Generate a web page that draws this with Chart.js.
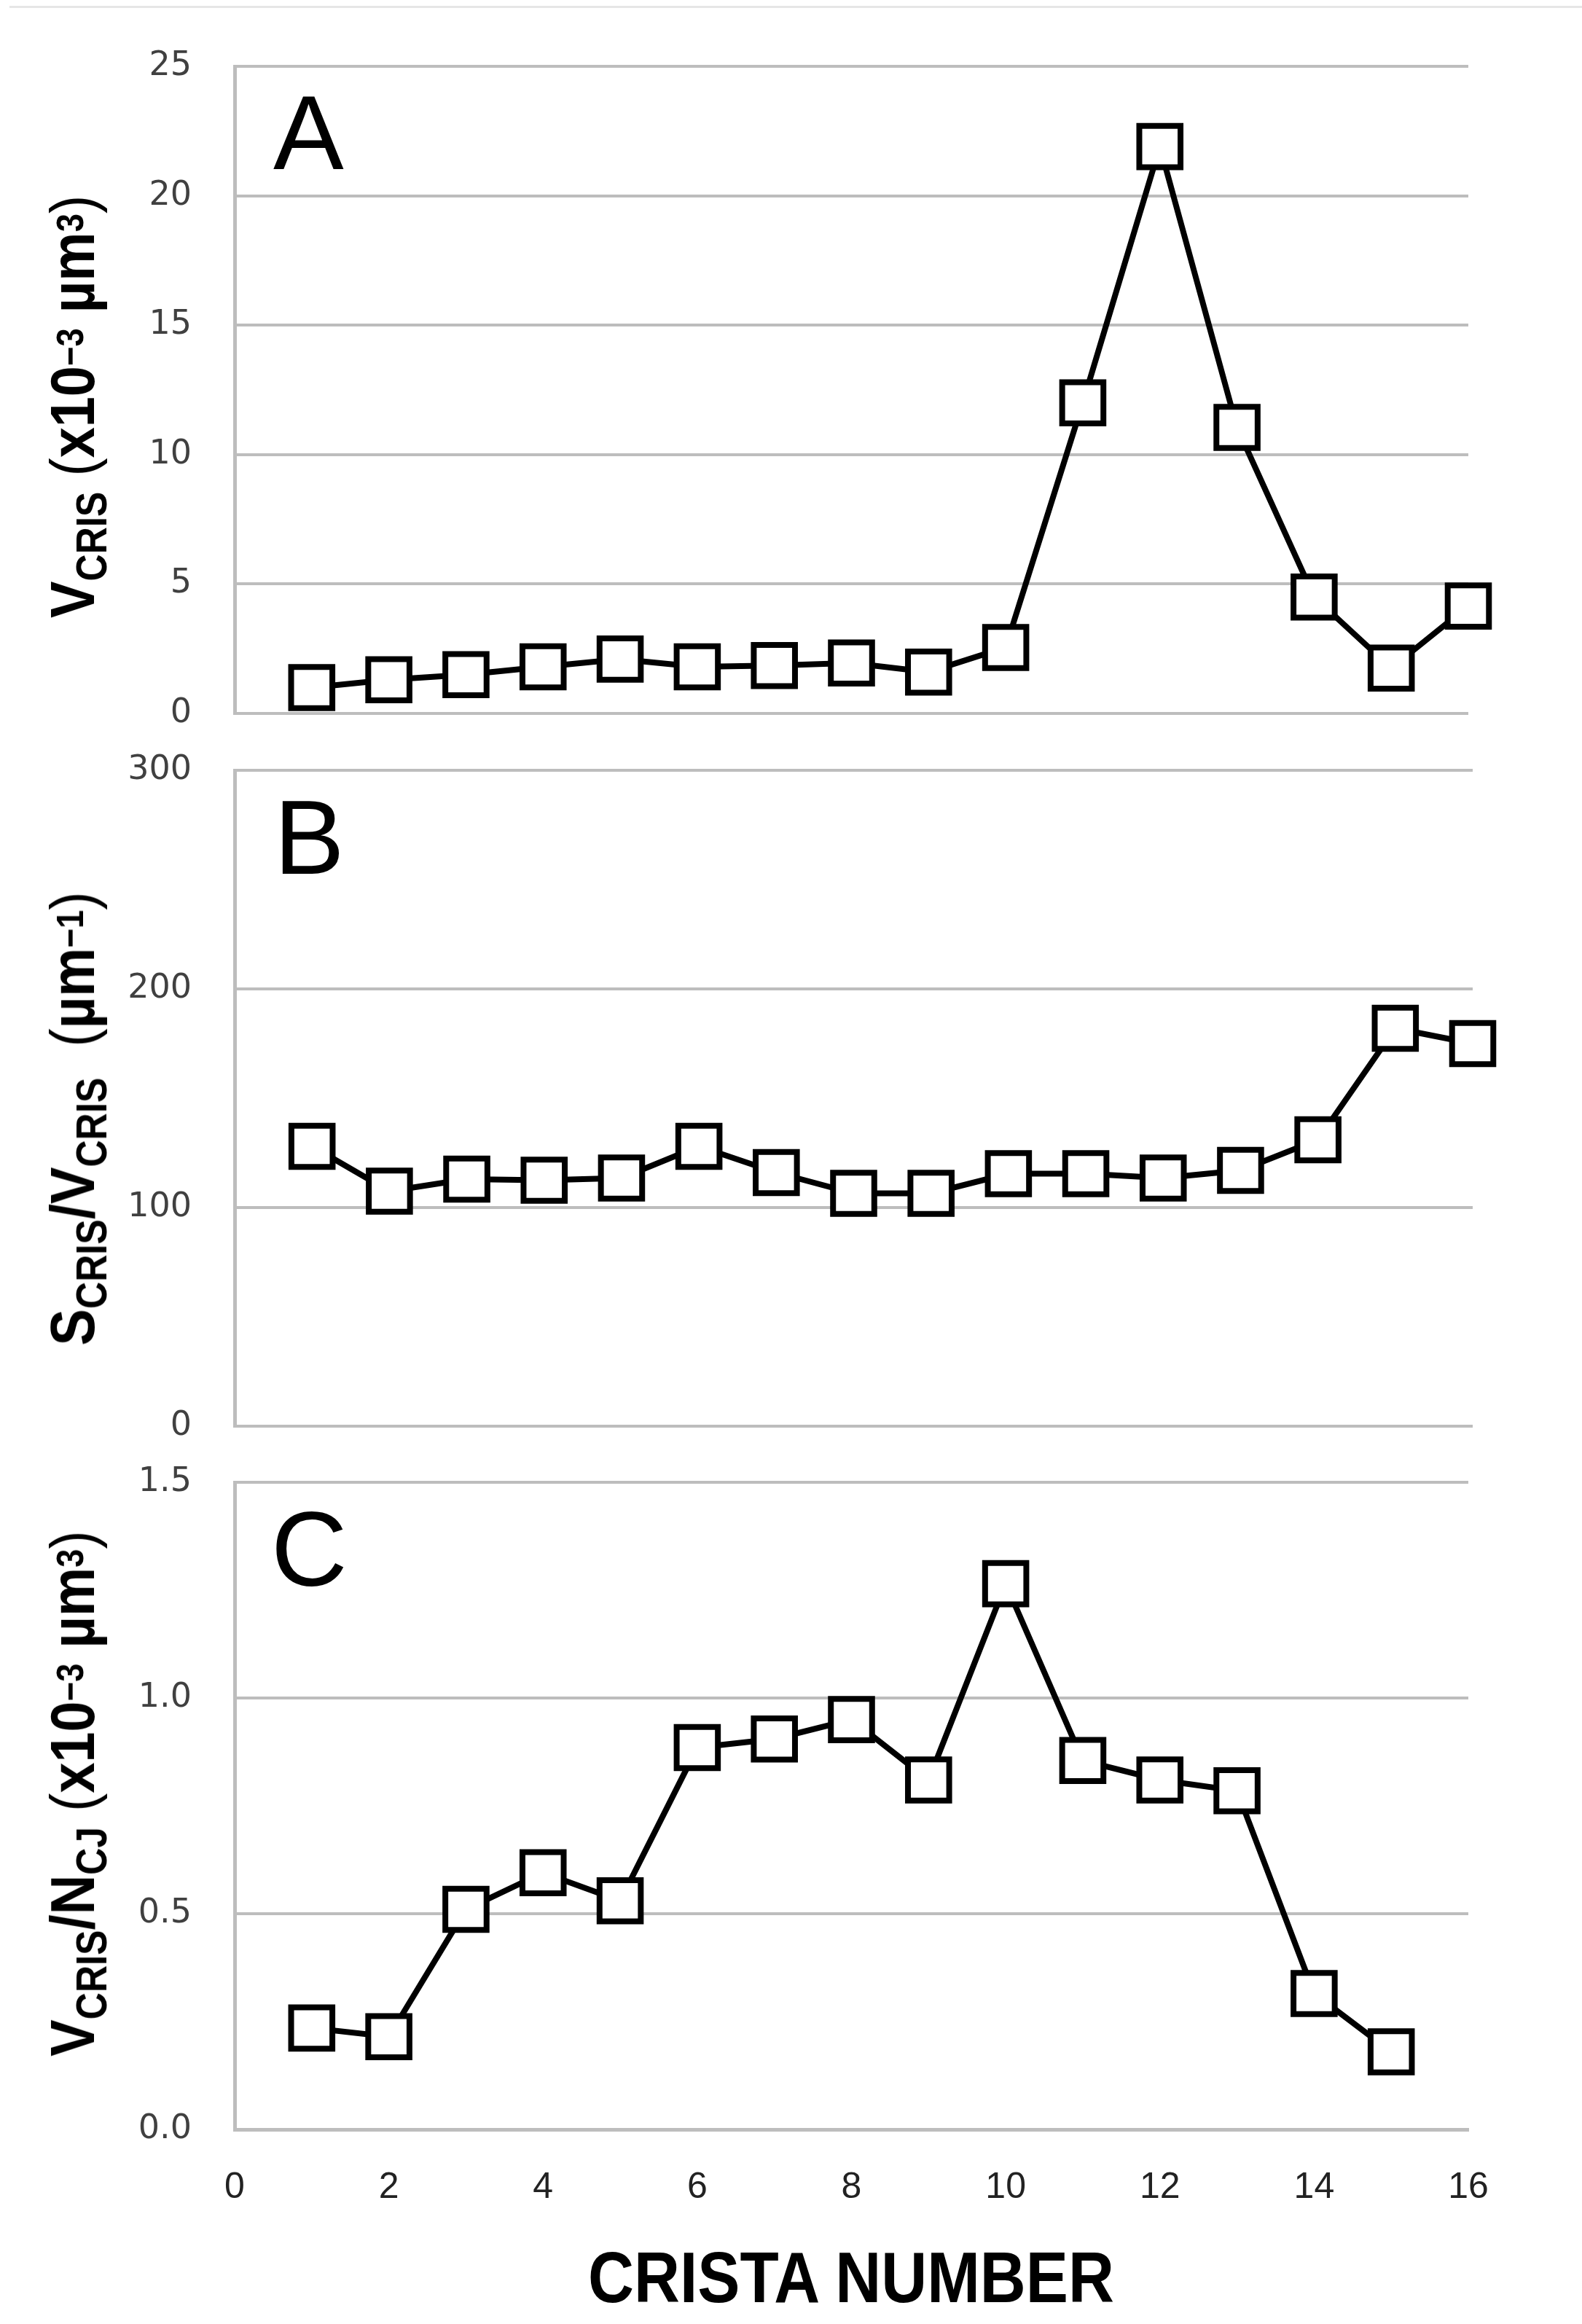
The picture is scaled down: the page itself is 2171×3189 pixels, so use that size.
<!DOCTYPE html>
<html>
<head>
<meta charset="utf-8">
<title>Crista number</title>
<script src="https://cdn.jsdelivr.net/npm/chart.js@4.4.0/dist/chart.umd.min.js"></script>
<style>
  html, body { margin: 0; padding: 0; background: #fff; }
  #page { position: relative; width: 2171px; height: 3189px; overflow: hidden; background: #fff; }
  #page canvas { position: absolute; left: 0; }
  .topline { position: absolute; left: 13px; top: 8px; width: 2158px; height: 3px; background: #e6e6e6; }
  .letter { position: absolute; font: 145px "Liberation Sans", Arial, sans-serif; line-height: 1; color: #000; }
  .ytitle {
    position: absolute; white-space: nowrap; color: #000;
    font: bold 86px "Liberation Sans", Arial, sans-serif; line-height: 86px; height: 86px;
    transform: translate(-50%, -50%) rotate(-90deg) scaleX(0.88);
  }
  .ytitle sub { font-size: 0.68em; vertical-align: baseline; position: relative; top: 0.29em; }
  .ytitle sup { font-size: 0.6em; vertical-align: baseline; position: relative; top: -0.3em; }
  .ytitle .p { font-weight: normal; }
  .xtitle {
    position: absolute; white-space: nowrap; color: #000;
    font: bold 98px "Liberation Sans", Arial, sans-serif; line-height: 1;
    transform: translate(-50%, -50%) scaleX(0.89);
  }
</style>
</head>
<body>
<div id="page">
  <div class="topline"></div>
  <canvas id="chartA" width="2171" height="1080" style="top:0px"></canvas>
  <canvas id="chartB" width="2171" height="1100" style="top:957px"></canvas>
  <canvas id="chartC" width="2171" height="1255" style="top:1934px"></canvas>

  <div class="letter" style="left:375px; top:110px">A</div>
  <div class="letter" style="left:376px; top:1077px">B</div>
  <div class="letter" style="left:372px; top:2054px">C</div>

  <div class="ytitle" style="left:99px; top:558px">V<sub>CRIS</sub> <span class="p">(</span>x10<sup>&minus;3</sup> µm<sup>3</sup><span class="p">)</span></div>
  <div class="ytitle" style="left:99px; top:1535px">S<sub>CRIS</sub>/V<sub>CRIS</sub>&nbsp; <span class="p">(</span>µm<sup>&minus;1</sup><span class="p">)</span></div>
  <div class="ytitle" style="left:99px; top:2461px">V<sub>CRIS</sub>/N<sub>CJ</sub> <span class="p">(</span>x10<sup>&minus;3</sup> µm<sup>3</sup><span class="p">)</span></div>

  <div class="xtitle" style="left:1168px; top:3125px">CRISTA NUMBER</div>
</div>

<script>
// crista numbers
const cristaAB = [1, 2, 3, 4, 5, 6, 7, 8, 9, 10, 11, 12, 13, 14, 15, 16];
const cristaC = [1, 2, 3, 4, 5, 6, 7, 8, 9, 10, 11, 12, 13, 14, 15];

// panel A: crista volume (x10^-3 um^3)
const volumeA = [1.0, 1.3, 1.5, 1.8, 2.1, 1.8, 1.85, 1.95, 1.6, 2.55, 12.0, 21.9, 11.05, 4.5, 1.75, 4.15];
// panel B: surface / volume (um^-1)
const surfVolB = [128, 107.5, 113, 112.5, 113.5, 128, 116, 106.5, 106.5, 115.5, 115.5, 113.5, 117, 131, 182, 175];
// panel C: volume per crista junction (x10^-3 um^3)
const volPerCjC = [0.235, 0.215, 0.51, 0.595, 0.53, 0.885, 0.905, 0.95, 0.81, 1.265, 0.855, 0.81, 0.785, 0.315, 0.18];

// tick values and labels
const xTicks = [0, 2, 4, 6, 8, 10, 12, 14, 16];
const yTicksA = [0, 5, 10, 15, 20, 25];
const yTicksB = [0, 100, 200, 300];
const yTicksC = [0, 0.5, 1.0, 1.5];
const yLabelsC = ['0.0', '0.5', '1.0', '1.5'];

const gridGray = '#bdbdbd';

function makePanel(canvasId, xs, ys, yTicks, yLabels, padding, showX) {
  const ctx = document.getElementById(canvasId).getContext('2d');
  return new Chart(ctx, {
    type: 'line',
    data: {
      datasets: [{
        data: xs.map((x, i) => ({ x: x, y: ys[i] })),
        borderColor: '#000',
        borderWidth: 8,
        pointStyle: 'rect',
        pointRadius: 40,
        pointHoverRadius: 40,
        pointBorderWidth: 8,
        pointBackgroundColor: '#fff',
        pointBorderColor: '#000',
        tension: 0,
        clip: false
      }]
    },
    options: {
      responsive: false,
      animation: false,
      devicePixelRatio: 1,
      layout: { padding: padding },
      plugins: { legend: { display: false }, tooltip: { enabled: false } },
      scales: {
        x: {
          type: 'linear',
          min: 0,
          max: 16,
          display: showX,
          afterBuildTicks: s => { s.ticks = xTicks.map(v => ({ value: v })); },
          afterFit: s => { if (showX) s.height = 120; },
          grid: { display: false, drawTicks: false },
          border: { display: true, color: gridGray, width: 5 },
          ticks: {
            padding: 50,
            color: '#222',
            font: { family: '"Liberation Sans Narrow", "Liberation Sans", Arial, sans-serif', size: 50 }
          }
        },
        y: {
          type: 'linear',
          min: yTicks[0],
          max: yTicks[yTicks.length - 1],
          afterBuildTicks: s => { s.ticks = yTicks.map(v => ({ value: v })); },
          afterFit: s => { s.width = 322; },
          grid: { color: gridGray, lineWidth: 4, drawTicks: false },
          border: { display: true, color: gridGray, width: 5 },
          ticks: {
            padding: 59,
            color: '#404040',
            font: { family: '"DejaVu Sans", Verdana, sans-serif', size: 46 },
            callback: (v, i) => yLabels[i]
          }
        }
      }
    }
  });
}

// canvases overlap; paddings keep each plot area where the reference has it
makePanel('chartA', cristaAB, volumeA, yTicksA, yTicksA.map(String),
  { left: 0, right: 156, top: 91, bottom: 101 }, false);
makePanel('chartB', cristaAB, surfVolB, yTicksB, yTicksB.map(String),
  { left: 0, right: 150, top: 100, bottom: 100 }, false);
makePanel('chartC', cristaC, volPerCjC, yTicksC, yLabelsC,
  { left: 0, right: 156, top: 100, bottom: 147 }, true);
</script>
</body>
</html>
